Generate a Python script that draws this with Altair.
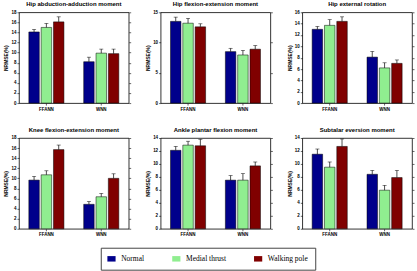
import altair as alt
import pandas as pd

models = ["FFANN", "WNN"]
conditions = ["Normal", "Medial thrust", "Walking pole"]
colors = ["#00008B", "#90EE90", "#800000"]

titles = [
    "Hip abduction-adduction moment",
    "Hip flexion-extension moment",
    "Hip external rotation",
    "Knee flexion-extension moment",
    "Ankle plantar flexion moment",
    "Subtalar eversion moment",
]

# mean NRMSE, order: FFANN (Normal, Medial thrust, Walking pole), WNN (same)
hip_abd_mean = [14.1, 15.0, 16.1, 8.2, 9.9, 9.8]
hip_flex_mean = [13.5, 13.2, 12.6, 8.5, 7.95, 8.9]
hip_rot_mean = [13.0, 13.7, 14.4, 8.1, 6.2, 7.0]
knee_flex_mean = [9.65, 10.7, 15.7, 4.85, 6.35, 10.0]
ankle_pf_mean = [12.1, 12.9, 12.8, 7.5, 7.5, 9.7]
subtalar_mean = [11.5, 9.5, 12.7, 8.4, 5.95, 7.9]

# upper error-bar lengths, same order
hip_abd_err = [0.5, 0.8, 1.0, 0.9, 0.8, 0.9]
hip_flex_err = [0.7, 0.8, 0.5, 0.55, 0.75, 0.6]
hip_rot_err = [0.5, 1.0, 0.8, 1.0, 0.9, 0.6]
knee_flex_err = [0.75, 0.8, 0.9, 0.55, 0.65, 0.9]
ankle_pf_err = [0.6, 0.6, 1.0, 0.7, 1.0, 0.6]
subtalar_err = [0.8, 0.8, 1.15, 0.6, 0.75, 1.1]

y_max = [18, 15, 16, 18, 14, 14]
y_step = [2, 5, 2, 2, 2, 2]

means = [hip_abd_mean, hip_flex_mean, hip_rot_mean, knee_flex_mean, ankle_pf_mean, subtalar_mean]
errs = [hip_abd_err, hip_flex_err, hip_rot_err, knee_flex_err, ankle_pf_err, subtalar_err]

PW, PH = 110, 91
SANS = "Liberation Sans"

legend = alt.Legend(
    title=None,
    orient="none",
    direction="horizontal",
    legendX=82,
    legendY=236,
    strokeColor="#444444",
    fillColor="white",
    padding=7,
    columnPadding=27,
    symbolType="M-1.5,-1H1.5V1H-1.5Z",
    symbolSize=30,
    symbolStrokeWidth=0,
    symbolOpacity=1,
    labelFont="Liberation Serif",
    labelFontSize=7.5,
    labelColor="black",
    labelOffset=6,
)


def panel(title, m, e, ymax, ystep):
    df = pd.DataFrame({
        "model": [mod for mod in models for _ in conditions],
        "condition": conditions * 2,
        "mean": m,
        "upper": [a + b for a, b in zip(m, e)],
    })
    y_scale = alt.Scale(domain=[0, ymax], nice=False, zero=True)
    tick_vals = list(range(0, ymax + 1, ystep))
    base = alt.Chart(df).encode(
        x=alt.X("model:N", sort=models,
                scale=alt.Scale(paddingInner=0.36, paddingOuter=0.18),
                axis=alt.Axis(title=None, labelAngle=0, labelFontSize=4.5,
                              labelFontWeight="bold", labelFont=SANS,
                              tickSize=2, labelPadding=1, domain=False,
                              tickColor="black", labelColor="black")),
        xOffset=alt.XOffset("condition:N", sort=conditions,
                            scale=alt.Scale(paddingInner=0.15)),
    )
    bars = base.mark_bar(stroke="black", strokeWidth=0.5).encode(
        y=alt.Y("mean:Q", scale=y_scale,
                axis=alt.Axis(title="NRMSE(%)", values=tick_vals, format="d",
                              titleFontSize=5, titleFont=SANS, titleFontWeight="bold",
                              titlePadding=2, labelFontSize=4.5, labelFont=SANS,
                              labelFontWeight="bold", tickSize=2, labelPadding=1,
                              grid=False, domain=False, tickColor="black",
                              labelColor="black", titleColor="black")),
        color=alt.Color("condition:N", sort=conditions,
                        scale=alt.Scale(domain=conditions, range=colors),
                        legend=legend),
    )
    stems = base.mark_rule(color="black", strokeWidth=0.7).encode(
        y=alt.Y("mean:Q", scale=y_scale,
                axis=alt.Axis(orient="right", title=None, labels=False,
                              values=tick_vals, tickSize=2, grid=False,
                              domain=False, tickColor="black")),
        y2="upper:Q",
    )
    caps = base.mark_tick(color="black", size=4, thickness=0.7,
                          orient="horizontal").encode(
        y=alt.Y("upper:Q", scale=y_scale, axis=None),
    )
    return alt.layer(bars, stems, caps).resolve_axis(y="independent").properties(
        width=PW, height=PH,
        title=alt.TitleParams(title, fontSize=6, font=SANS, fontWeight="bold",
                              offset=2, color="black"),
    )


panels = [panel(titles[i], means[i], errs[i], y_max[i], y_step[i]) for i in range(6)]

row1 = alt.hconcat(*panels[:3], spacing=13)
row2 = alt.hconcat(*panels[3:], spacing=13)

chart = alt.vconcat(row1, row2, spacing=15).properties(
    padding={"left": 3, "top": 0, "right": 2, "bottom": 0},
    background="white",
).configure_view(
    stroke="black", strokeWidth=0.8,
).configure_axis(
    tickWidth=0.6,
)

chart.save("out.html", embed_options={"renderer": "svg", "actions": False})
